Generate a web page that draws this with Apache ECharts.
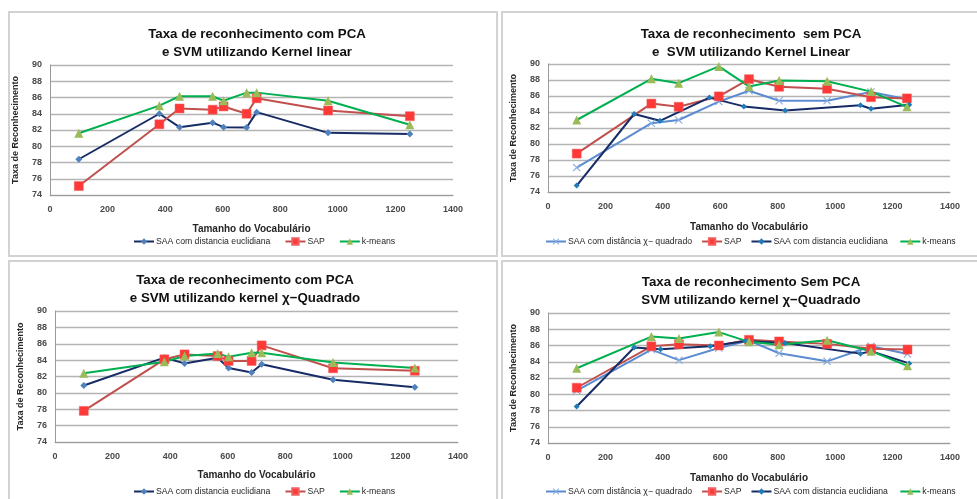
<!DOCTYPE html>
<html><head><meta charset="utf-8">
<script src="https://cdn.jsdelivr.net/npm/echarts@6/dist/echarts.min.js"></script>
<style>html,body{margin:0;padding:0;background:#fff}#c{width:977px;height:499px}</style>
</head><body><div id="c"></div>
<script>
// Tick labels / axes
var xTicks = [0, 200, 400, 600, 800, 1000, 1200, 1400];
var yTicks = [74, 76, 78, 80, 82, 84, 86, 88, 90];

// Panel 1: com PCA, kernel linear
var p1X   = [100, 380, 450, 565, 603, 683, 718, 966, 1250];
var p1Euc = [78.4, 84.0, 82.35, 82.9, 82.35, 82.3, 84.2, 81.65, 81.5];
var p1SAP = [75.1, 82.7, 84.65, 84.5, 84.9, 84.0, 85.9, 84.4, 83.7];
var p1KM  = [81.6, 85.0, 86.15, 86.15, 85.6, 86.6, 86.6, 85.6, 82.65];

// Panel 2: sem PCA, kernel linear
var p2X    = [100, 360, 455, 595, 700, 805, 972, 1125, 1250];
var p2Chi  = [77.05, 82.6, 83.0, 85.3, 86.65, 85.4, 85.4, 86.5, 85.6];
var p2SAP  = [78.8, 85.05, 84.65, 85.95, 88.1, 87.15, 86.9, 85.85, 85.7];
var p2KM   = [83.0, 88.15, 87.6, 89.7, 87.2, 87.95, 87.85, 86.55, 84.65];
var p2EucX = [100, 300, 390, 562, 682, 826, 1088, 1125, 1258];
var p2Euc  = [74.8, 83.75, 82.9, 85.8, 84.7, 84.2, 84.85, 84.4, 84.9];

// Panel 3: com PCA, kernel chi-quadrado
var p3X   = [100, 380, 450, 565, 603, 683, 718, 966, 1250];
var p3Euc = [80.9, 84.3, 83.6, 84.3, 83.05, 82.5, 83.5, 81.6, 80.7];
var p3SAP = [77.8, 84.1, 84.7, 84.5, 83.9, 83.9, 85.8, 83.0, 82.7];
var p3KM  = [82.4, 83.8, 84.5, 84.8, 84.4, 84.9, 84.9, 83.7, 83.05];

// Panel 4: sem PCA, kernel chi-quadrado
var p4X    = [100, 360, 456, 595, 700, 805, 972, 1125, 1252];
var p4Chi  = [80.45, 85.5, 84.2, 85.7, 86.6, 85.05, 84.05, 85.9, 84.95];
var p4SAP  = [80.8, 85.9, 86.15, 86.0, 86.7, 86.5, 86.2, 85.6, 85.5];
var p4KM   = [83.2, 87.1, 86.85, 87.65, 86.45, 86.1, 86.65, 85.3, 83.5];
var p4EucX = [100, 300, 392, 565, 688, 825, 1088, 1125, 1258];
var p4Euc  = [78.5, 85.75, 85.55, 85.9, 86.55, 86.3, 85.0, 85.3, 83.8];

var titles = [
  'Taxa de reconhecimento com PCA\ne SVM utilizando Kernel linear',
  'Taxa de reconhecimento  sem PCA\ne  SVM utilizando Kernel Linear',
  'Taxa de reconhecimento com PCA\ne SVM utilizando kernel \u03c7\u2212Quadrado',
  'Taxa de reconhecimento Sem PCA\nSVM utilizando kernel \u03c7\u2212Quadrado'
];
var nEuc = 'SAA com distancia euclidiana';
var nEuc2 = 'SAA com distancia euclidiana ';
var nSAP = 'SAP';
var nKM = 'k-means';
var nChi = 'SAA com dist\u00e2ncia \u03c7\u2212 quadrado';
var yName = 'Taxa de Reconhecimento';
var xName = 'Tamanho do Vocabul\u00e1rio';

function pairs(xs, ys) { return xs.map(function (x, i) { return [x, ys[i]]; }); }

var FONT = '"Liberation Sans", Arial, sans-serif';
var grids = [
  {left: 50, top: 65, width: 403, height: 130},
  {left: 548, top: 64, width: 402, height: 128},
  {left: 55, top: 311, width: 403, height: 131},
  {left: 548, top: 313, width: 402, height: 130}
];
var titlePos = [[252, 20], [746, 20], [240, 266], [746, 268]];
var legendPos = [[133, 237], [545, 237], [133, 487], [545, 487]];
var xNameGap = [29, 30, 28, 30];

var xAxes = [], yAxes = [], titleArr = [], legends = [];
for (var i = 0; i < 4; i++) {
  xAxes.push({
    type: 'value', gridIndex: i, min: xTicks[0], max: xTicks[xTicks.length - 1], interval: 200,
    name: xName, nameLocation: 'middle', nameGap: xNameGap[i],
    nameTextStyle: {fontFamily: FONT, fontWeight: 'bold', fontSize: 10, color: '#262626'},
    axisLine: {lineStyle: {color: '#9a9a9a', width: 1}},
    axisTick: {show: false},
    splitLine: {show: false},
    axisLabel: {fontFamily: FONT, fontSize: 9, fontWeight: 'bold', color: '#4a4a4a', margin: 10,
      formatter: function (v) { return String(v); }}
  });
  yAxes.push({
    type: 'value', gridIndex: i, min: yTicks[0], max: yTicks[yTicks.length - 1], interval: 2,
    name: yName, nameLocation: 'middle', nameGap: 30, nameRotate: 90,
    nameTextStyle: {fontFamily: FONT, fontWeight: 'bold', fontSize: 9, color: '#262626'},
    axisLine: {show: true, lineStyle: {color: '#9a9a9a', width: 1}},
    axisTick: {show: false},
    splitLine: {lineStyle: {color: '#b4b4b4', width: 1.3}},
    axisLabel: {fontFamily: FONT, fontSize: 9, fontWeight: 'bold', color: '#4a4a4a', margin: 8}
  });
  titleArr.push({
    text: titles[i], left: titlePos[i][0], top: titlePos[i][1], textAlign: 'center',
    textStyle: {fontFamily: FONT, fontWeight: 'bold', fontSize: 13.3, lineHeight: 18, color: '#111'}
  });
}
legends.push({data: [nEuc, nSAP, nKM]});
legends.push({data: [nChi, nSAP, nEuc2, nKM]});
legends.push({data: [nEuc, nSAP, nKM]});
legends.push({data: [nChi, nSAP, nEuc2, nKM]});
legends = legends.map(function (l, i) {
  return Object.assign(l, {
    left: legendPos[i][0], top: legendPos[i][1], width: 460, itemWidth: 20, itemHeight: 8,
    itemGap: (i % 2 ? 9 : 14),
    padding: 0, selectedMode: false,
    textStyle: {fontFamily: FONT, fontSize: 8.7, color: '#262626', padding: [0, 0, 0, -3]}
  });
});

function sEuc(g, xs, ys) {
  return {name: nEuc, type: 'line', xAxisIndex: g, yAxisIndex: g, data: pairs(xs, ys),
    symbol: 'diamond', symbolSize: 7, lineStyle: {color: '#172c66', width: 2},
    itemStyle: {color: '#4F81BD'}, color: '#172c66'};
}
function sEuc2(g, xs, ys) {
  return {name: nEuc2, type: 'line', xAxisIndex: g, yAxisIndex: g, data: pairs(xs, ys),
    symbol: 'diamond', symbolSize: 6, lineStyle: {color: '#172c66', width: 2},
    itemStyle: {color: '#1f7cb8'}, color: '#172c66'};
}
function sSAP(g, xs, ys) {
  return {name: nSAP, type: 'line', xAxisIndex: g, yAxisIndex: g, data: pairs(xs, ys),
    symbol: 'rect', symbolSize: 9, lineStyle: {color: '#C0504D', width: 2},
    itemStyle: {color: '#FF3838', borderColor: '#f06060', borderWidth: 0.5}, color: '#C0504D'};
}
function sKM(g, xs, ys) {
  return {name: nKM, type: 'line', xAxisIndex: g, yAxisIndex: g, data: pairs(xs, ys),
    symbol: 'triangle', symbolSize: 9, lineStyle: {color: '#00B050', width: 2},
    itemStyle: {color: '#9BBB59'}, color: '#00B050'};
}
var XPATH = 'path://M0,1 L1,0 L5,4 L9,0 L10,1 L6,5 L10,9 L9,10 L5,6 L1,10 L0,9 L4,5 Z';
function sChi(g, xs, ys) {
  return {name: nChi, type: 'line', xAxisIndex: g, yAxisIndex: g, data: pairs(xs, ys),
    symbol: XPATH, symbolSize: 8, lineStyle: {color: '#5B8BD0', width: 2},
    itemStyle: {color: '#8aaee0'}, color: '#5B8BD0'};
}

var series = [
  sEuc(0, p1X, p1Euc), sSAP(0, p1X, p1SAP), sKM(0, p1X, p1KM),
  sChi(1, p2X, p2Chi), sSAP(1, p2X, p2SAP), sEuc2(1, p2EucX, p2Euc), sKM(1, p2X, p2KM),
  sEuc(2, p3X, p3Euc), sSAP(2, p3X, p3SAP), sKM(2, p3X, p3KM),
  sChi(3, p4X, p4Chi), sSAP(3, p4X, p4SAP), sEuc2(3, p4EucX, p4Euc), sKM(3, p4X, p4KM)
];
series.forEach(function (s) { s.animation = false; s.emphasis = {disabled: true}; });

var boxStyle = {fill: 'none', stroke: '#d2d2d2', lineWidth: 2};
var option = {
  backgroundColor: '#fff',
  animation: false,
  title: titleArr,
  legend: legends,
  grid: grids,
  xAxis: xAxes,
  yAxis: yAxes,
  series: series,
  graphic: [
    {type: 'rect', shape: {x: 9, y: 12, width: 488, height: 244}, style: boxStyle, silent: true},
    {type: 'rect', shape: {x: 502, y: 12, width: 480, height: 244}, style: boxStyle, silent: true},
    {type: 'rect', shape: {x: 9, y: 261, width: 488, height: 250}, style: boxStyle, silent: true},
    {type: 'rect', shape: {x: 502, y: 261, width: 480, height: 250}, style: boxStyle, silent: true}
  ]
};
var chart = echarts.init(document.getElementById('c'), null, {renderer: 'canvas'});
chart.setOption(option);
</script></body></html>
